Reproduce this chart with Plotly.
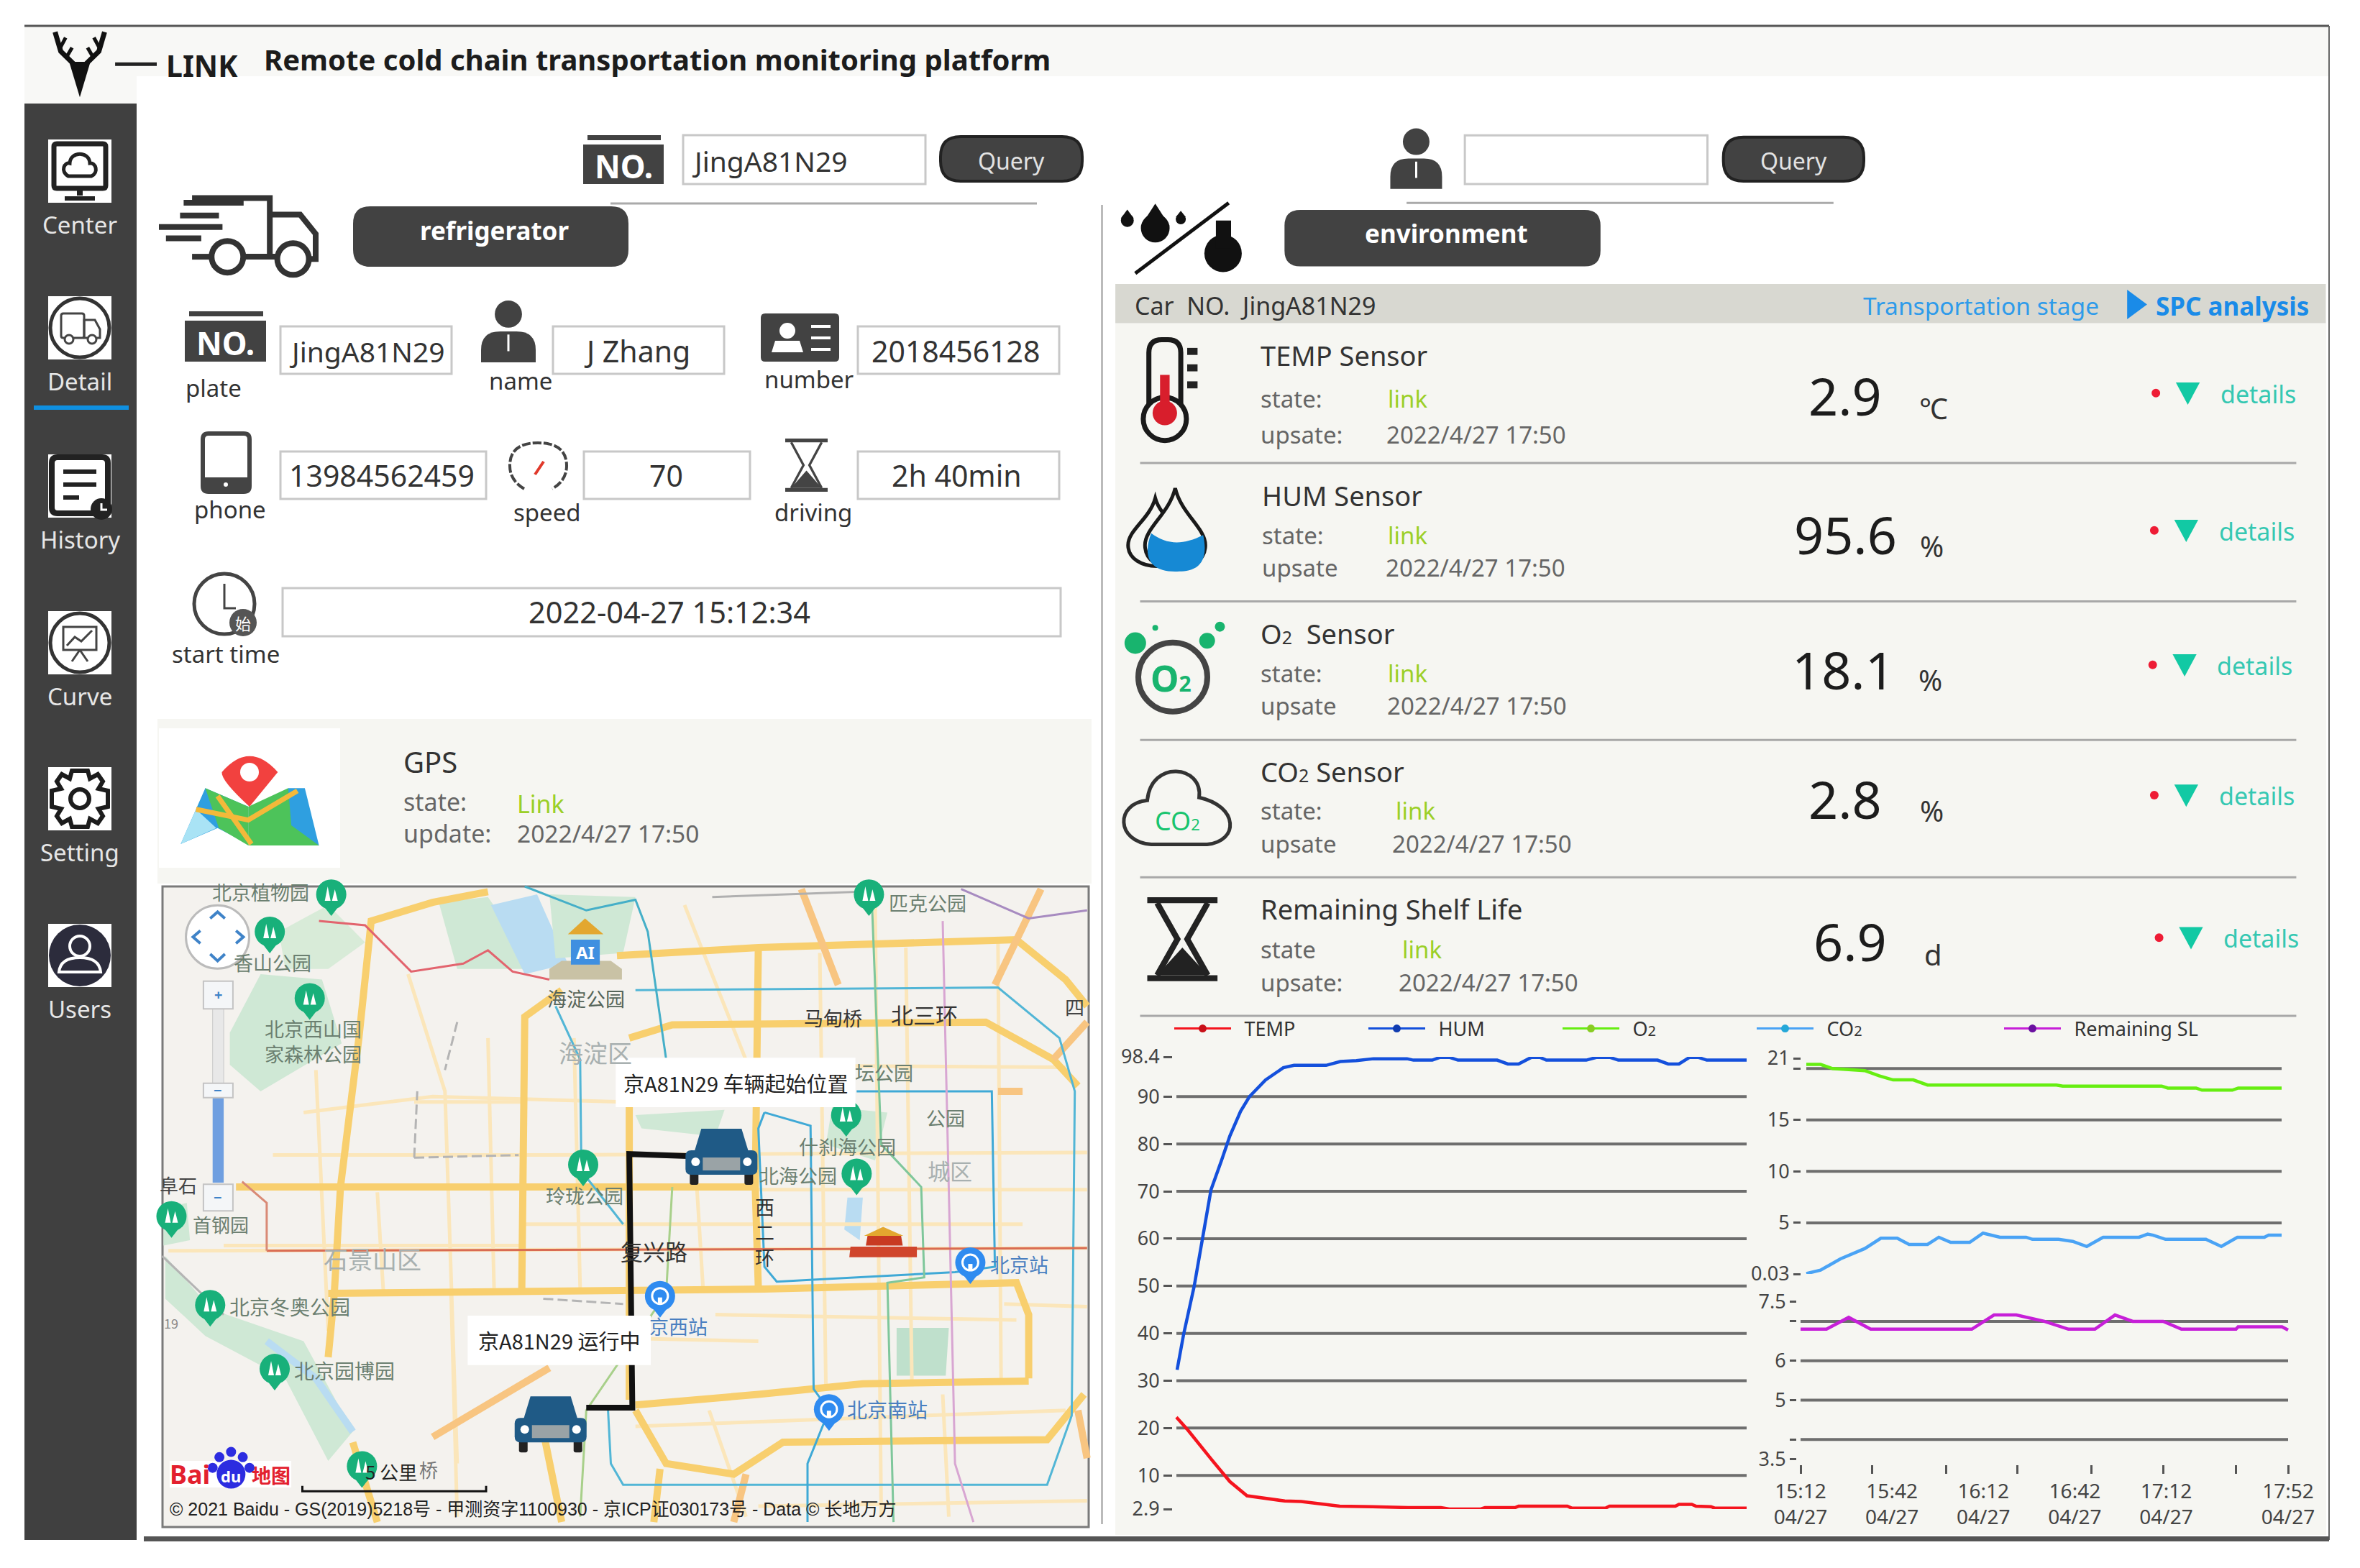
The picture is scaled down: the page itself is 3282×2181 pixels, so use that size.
import plotly.graph_objects as go

W, H = 3282, 2181
FONT = "Noto Sans, Noto Sans CJK SC, sans-serif"
CJK = "Noto Sans CJK SC, Noto Sans, sans-serif"

# ---- chart data (minutes after 15:12) ----
temp_t = [0, 3.2, 9.7, 15, 19.8, 25.7, 30.4, 35, 41, 45.8, 55, 65, 74.2, 76.6, 85.4, 86.6, 95, 96, 109.7, 110.9,
          120.4, 121.5, 140, 141, 144.6, 145.8, 150, 151, 160]
temp_v = [22.3, 19.6, 13.5, 8.7, 5.7, 5, 4.6, 4.5, 3.9, 3.5, 3.4, 3.2, 3.2, 2.9, 2.9, 3.2, 3.2, 3.5, 3.5, 3.1,
          3.1, 3.5, 3.5, 3.9, 3.9, 3.5, 3.4, 3.1, 3.1]
hum_t = [0.2, 2, 5, 7.3, 9.7, 12.7, 15, 18, 20.5, 25, 30, 33, 42, 46, 50.5, 55.3, 64.7, 66.5, 71.8, 74, 76.6, 79,
         90, 93, 96, 99.6, 102, 103.8, 115, 118, 121.6, 124, 135, 138, 141, 144, 146.4, 148.8, 160]
hum_v = [32.3, 39.7, 50, 60.3, 70.3, 76.6, 81.7, 86.9, 90, 93.5, 96.1, 96.6, 96.6, 97.4, 97.6, 98, 98, 97.7, 97.7,
         98.3, 98.3, 97.7, 97.7, 96.9, 96.9, 98.3, 98.3, 97.7, 97.7, 98.3, 98.3, 97.7, 97.7, 96.9, 96.9, 98.3, 98.3,
         97.7, 97.7]
o2_t = [0, 4.8, 8.8, 19.7, 24.5, 29.2, 36, 40.8, 84.2, 86.3, 119.6, 121.7, 131.2, 133.2, 143.4, 145.4, 160]
o2_v = [20.4, 20.4, 20, 19.8, 19.3, 18.9, 18.9, 18.4, 18.4, 18.3, 18.3, 18.1, 18.1, 17.9, 17.9, 18.1, 18.1]
co2_t = [0, 4.8, 11.5, 19.7, 25.1, 30.6, 34.6, 40.8, 44.6, 48.6, 55, 59.5, 65.2, 74, 76.1, 84.9, 89.7, 94.4, 99.9,
         112, 114.9, 116.8, 120.9, 134.5, 139.7, 145.1, 154.2, 155.6, 160]
co2_v = [0.07, 0.4, 1.5, 2.5, 3.5, 3.5, 2.9, 2.9, 3.6, 3.1, 3.1, 4, 3.6, 3.6, 3.4, 3.4, 3.2, 2.7, 3.6, 3.6, 3.9,
         3.8, 3.4, 3.4, 2.7, 3.6, 3.6, 3.8, 3.8]
sl_t = [0, 8.5, 15.8, 23, 56.2, 63.5, 70.8, 80, 87.9, 96.6, 103.2, 109, 119, 125, 142.9, 143.6, 158, 160]
sl_v = [6.8, 6.8, 7.1, 6.8, 6.8, 7.16, 7.16, 7, 6.8, 6.8, 7.16, 7, 7, 6.8, 6.8, 6.86, 6.86, 6.78]

left_ticks = [2.9, 10, 20, 30, 40, 50, 60, 70, 80, 90, 98.4]
left_grid = [10, 20, 30, 40, 50, 60, 70, 80, 90]
top_ticks = [0.03, 5, 10, 15, 20, 21]
top_labels = ["0.03", "5", "10", "15", "", "21"]
top_grid = [5, 10, 15, 20]
low_ticks = [3.5, 4, 5, 6, 7, 7.5]
low_labels = ["3.5", "", "5", "6", "", "7.5"]
low_grid = [4, 5, 6, 7]
time_ticks = [0, 30, 60, 90, 120, 160]
time_labels = ["15:12<br>04/27", "15:42<br>04/27", "16:12<br>04/27", "16:42<br>04/27", "17:12<br>04/27", "17:52<br>04/27"]
time_marks = [0, 23.5, 47.7, 71.2, 95.4, 119, 143, 160]

# ---- dashboard text ----
nav_labels = ["Center", "Detail", "History", "Curve", "Setting", "Users"]
sensor_titles = ["TEMP Sensor", "HUM Sensor", 'O<span style="font-size:25px">2</span>  Sensor',
                 'CO<span style="font-size:25px">2</span> Sensor', "Remaining Shelf Life"]
sensor_state_labels = ["state:", "state:", "state:", "state:", "state"]
sensor_time_labels = ["upsate:", "upsate", "upsate", "upsate", "upsate:"]
sensor_values = ["2.9", "95.6", "18.1", "2.8", "6.9"]
sensor_units = ["℃", "%", "%", "%", "d"]
sensor_stamp = "2022/4/27 17:50"

DARK = "#424242"
PANEL = "#f6f6f2"
GRID = "#6e6e6e"
shapes, notes = [], []


def z3(x, y):  # top left crop
    return x * 1540 / 1568, y * 1000 / 1568


def z4(x, y):  # right hand panel crop
    return 1540 + x * 1740 / 1568, 150 + y * 1280 / 1568


def z5(x, y):  # map crop
    return 200 + x * 1340 / 1568, 1000 + y * 1160 / 1568


def add(**kw):
    kw.update(xref="x", yref="y", layer="below")
    shapes.append(kw)


def rect(x0, y0, x1, y1, fill=None, color=None, w=0):
    add(type="rect", x0=x0, y0=y0, x1=x1, y1=y1, fillcolor=fill, line=dict(color=color, width=w))


def circle(cx, cy, r, fill=None, color=None, w=0):
    add(type="circle", x0=cx - r, y0=cy - r, x1=cx + r, y1=cy + r, fillcolor=fill, line=dict(color=color, width=w))


def poly(pts, fill=None, color=None, w=0, closed=True):
    d = "M" + " L".join(f"{x:.1f},{y:.1f}" for x, y in pts) + (" Z" if closed else "")
    add(type="path", path=d, fillcolor=fill, line=dict(color=color, width=w))


def stroke(pts, color, w):
    poly(pts, color=color, w=w, closed=False)


def rrect(x0, y0, x1, y1, r, fill=None, color=None, w=0):
    d = (f"M{x0 + r},{y0} L{x1 - r},{y0} Q{x1},{y0} {x1},{y0 + r} L{x1},{y1 - r} Q{x1},{y1} {x1 - r},{y1} "
         f"L{x0 + r},{y1} Q{x0},{y1} {x0},{y1 - r} L{x0},{y0 + r} Q{x0},{y0} {x0 + r},{y0} Z")
    add(type="path", path=d, fillcolor=fill, line=dict(color=color, width=w))


def curve(start, *segs, fill=None, color=None, w=0, closed=False):
    # segs are cubic segments: three points each
    d = f"M{start[0]:.1f},{start[1]:.1f}"
    for a, b, c in segs:
        d += f" C{a[0]:.1f},{a[1]:.1f} {b[0]:.1f},{b[1]:.1f} {c[0]:.1f},{c[1]:.1f}"
    add(type="path", path=d + (" Z" if closed else ""), fillcolor=fill, line=dict(color=color, width=w))


def teardrop(tip, cx, cy, rx, ry, fill=None, color=None, w=0):
    curve(tip,
          ((tip[0] + rx * 0.2, tip[1] + (cy - tip[1]) * 0.45), (cx + rx, cy - ry * 0.7), (cx + rx, cy)),
          ((cx + rx, cy + ry * 1.3), (cx - rx, cy + ry * 1.3), (cx - rx, cy)),
          ((cx - rx, cy - ry * 0.7), (tip[0] - rx * 0.2, tip[1] + (cy - tip[1]) * 0.45), tip),
          fill=fill, color=color, w=w, closed=True)


def txt(x, y, s, size=34, color="#333333", anchor="left", bold=False, font=FONT):
    notes.append(dict(x=x, y=y, xref="x", yref="y", text=f"<b>{s}</b>" if bold else s, showarrow=False,
                      xanchor=anchor, yanchor="middle", font=dict(size=size, color=color, family=font)))


def person(cx, y0, y1, hw):
    h = y1 - y0
    circle(cx, y0 + h * 0.22, h * 0.22, fill=DARK)
    d = (f"M{cx - hw},{y1} L{cx - hw},{y1 - h * 0.2} Q{cx - hw},{y0 + h * 0.5} {cx - hw * 0.3},{y0 + h * 0.5} "
         f"L{cx + hw * 0.3},{y0 + h * 0.5} Q{cx + hw},{y0 + h * 0.5} {cx + hw},{y1 - h * 0.2} L{cx + hw},{y1} Z")
    add(type="path", path=d, fillcolor=DARK, line=dict(width=0))
    stroke([(cx, y0 + h * 0.55), (cx, y1 - h * 0.18)], "#ffffff", 3)


def no_badge(x0, y0, x1, y1, size):
    rect(x0, y0, x1, y1, fill=DARK)
    rect(x0 + 6, y0 - 13, x1 - 4, y0 - 6, fill=DARK)
    txt((x0 + x1) / 2, (y0 + y1) / 2 + 2, "NO.", size, "#ffffff", "center", True)


def field(x0, y0, x1, y1):
    rect(x0, y0, x1, y1, fill="#ffffff", color="#c8c8c8", w=3)


def hourglass(x0, y0, x1, y1, color, thick=0.045):
    mx = (x0 + x1) / 2
    my = (y0 + y1) / 2
    h = y1 - y0
    bar = h * 0.07
    rect(x0, y0, x1, y0 + bar, fill=color)
    rect(x0, y1 - bar, x1, y1, fill=color)
    a = (x1 - x0) * 0.36
    n = (x1 - x0) * 0.07
    stroke([(mx - a, y0 + bar), (mx - n, my), (mx - a, y1 - bar)], color, h * thick)
    stroke([(mx + a, y0 + bar), (mx + n, my), (mx + a, y1 - bar)], color, h * thick)
    poly([(mx, my + h * 0.1), (mx + a, y1 - bar), (mx - a, y1 - bar)], fill=color)


# ---- page frame ----
rect(34, 36, 3239, 106, fill="#f8f8f6")
rect(34, 106, 190, 146, fill="#f8f8f6")
stroke([(34, 36), (3239, 36)], "#555555", 3)
stroke([(3239, 36), (3239, 2142)], "#666666", 2)
rect(34, 144, 190, 2142, fill="#404040")
rect(200, 2137, 3239, 2144, fill="#555555")

# logo and title
poly([z3(113, 212), z3(98, 135), z3(128, 135)], fill="#111111")
for sx in (1, -1):
    def m(x, y):
        return z3(113 + sx * (x - 113), y)
    stroke([m(108, 145), m(86, 112), m(78, 70)], "#111111", 7)
    stroke([m(84, 108), m(93, 82)], "#111111", 5)
    stroke([m(93, 128), m(102, 104)], "#111111", 5)
stroke([z3(163, 140), z3(222, 140)], "#222222", 5)
txt(*z3(233, 143), "LINK", 41, "#1c1c1c", bold=True)
txt(*z3(372, 130), "Remote cold chain transportation monitoring platform", 40, "#1c1c1c", bold=True)

# ---- side navigation ----
nav_y = [238, 456, 676, 894, 1111, 1329]
for label, cy in zip(nav_labels, nav_y):
    rect(67, cy - 44, 155, cy + 44, fill="#ffffff")
    txt(111, cy + 74, label, 33, "#e6e6e6", "center")
rect(47, 564, 179, 570, fill="#0f8fe0")
# center: monitor with a cloud
rrect(75, 200, 147, 262, 4, fill="#ffffff", color="#222222", w=7)
stroke([(111, 262), (111, 272)], "#222222", 8)
stroke([(90, 276), (132, 276)], "#222222", 6)
curve((95, 245), ((83, 238), (90, 225), (97, 227)), ((98, 210), (124, 210), (125, 227)),
      ((133, 226), (138, 240), (127, 245)), color="#222222", w=5, closed=True)
# detail: truck in a ring
circle(111, 456, 41, color="#333333", w=5)
rrect(85, 436, 117, 470, 3, color="#444444", w=3)
poly([(117, 445), (132, 445), (139, 458), (139, 470), (117, 470)], color="#444444", w=3)
circle(96, 472, 6, fill="#ffffff", color="#444444", w=3)
circle(128, 472, 6, fill="#ffffff", color="#444444", w=3)
# history: document with a clock
rrect(72, 636, 150, 714, 8, fill="#ffffff", color="#222222", w=8)
stroke([(88, 656), (134, 656)], "#222222", 6)
stroke([(88, 674), (134, 674)], "#222222", 6)
stroke([(88, 692), (110, 692)], "#222222", 6)
circle(141, 708, 15, fill="#222222")
stroke([(141, 700), (141, 709), (149, 709)], "#ffffff", 3)
# curve: board in a ring
circle(111, 894, 41, color="#333333", w=5)
rect(88, 872, 134, 904, color="#444444", w=3)
stroke([(93, 898), (104, 886), (113, 892), (128, 877)], "#444444", 3)
stroke([(111, 904), (100, 920)], "#444444", 3)
stroke([(111, 904), (122, 920)], "#444444", 3)
# setting: gear outline
gear = [(100, 1072), (122, 1072), (125, 1083), (136, 1077), (143, 1087), (137, 1097), (150, 1100), (150, 1122),
        (137, 1125), (143, 1135), (136, 1145), (125, 1139), (122, 1150), (100, 1150), (97, 1139), (86, 1145),
        (79, 1135), (85, 1125), (72, 1122), (72, 1100), (85, 1097), (79, 1087), (86, 1077), (97, 1083)]
poly(gear, fill="#ffffff", color="#1c1c1c", w=6)
circle(111, 1111, 13, fill="#ffffff", color="#1c1c1c", w=6)
# users: round badge
circle(111, 1329, 43, fill="#2c2c3c")
circle(111, 1316, 14, color="#ffffff", w=4)
d = "M82,1352 Q84,1332 111,1332 Q138,1332 140,1352 Z"
add(type="path", path=d, line=dict(color="#ffffff", width=4))

# ---- left column: search row and vehicle details ----
no_badge(811, 201, 923, 256, 44)
field(950, 188, 1287, 256)
txt(960, 223, "JingA81N29", 39)
rrect(1308, 190, 1505, 252, 28, fill=DARK, color="#222222", w=4)
txt(1406, 223, "Query", 32, "#e2e2e2", "center")
stroke([(849, 283), (1442, 283)], "#aaaaaa", 3)
rect(1531, 285, 1534, 2120, fill="#bbbbbb")

# truck icon
truck_w = 8
stroke([z3(272, 432), z3(382, 432), z3(382, 560)], "#333333", truck_w)
stroke([z3(382, 468), z3(425, 468), z3(447, 510), z3(447, 565), z3(440, 565)], "#333333", truck_w)
stroke([z3(345, 560), z3(392, 560)], "#333333", truck_w)
stroke([z3(272, 560), z3(300, 560)], "#333333", truck_w)
for a, b, y in [(260, 345, 442), (255, 310, 470), (225, 315, 495), (235, 285, 520)]:
    stroke([z3(a, y), z3(b, y)], "#333333", truck_w)
circle(*z3(322, 560), 22, fill="#ffffff", color="#333333", w=truck_w)
circle(*z3(415, 565), 22, fill="#ffffff", color="#333333", w=truck_w)

rrect(491, 287, 874, 371, 24, fill=DARK)
txt(687, 320, "refrigerator", 35, "#ffffff", "center", True)

no_badge(257, 446, 370, 503, 44)
txt(297, 539, "plate", 33, anchor="center")
field(390, 454, 628, 520)
txt(400, 488, "JingA81N29", 39)
person(707, 418, 504, 38)
txt(724, 529, "name", 33, anchor="center")
field(769, 454, 1007, 520)
txt(886, 488, "J Zhang", 41, anchor="center")
rrect(1058, 436, 1167, 503, 6, fill=DARK)
circle(1095, 460, 11, fill="#ffffff")
poly([(1073, 490), (1078, 474), (1112, 474), (1117, 490)], fill="#ffffff")
for y in [454, 470, 486]:
    stroke([(1128, y), (1155, y)], "#ffffff", 4)
txt(1125, 527, "number", 33, anchor="center")
field(1193, 454, 1473, 520)
txt(1329, 488, "2018456128", 41, anchor="center")

rrect(282, 603, 347, 684, 8, color="#444444", w=6)
rect(282, 664, 347, 684, fill="#444444")
circle(314, 674, 3, fill="#ffffff")
txt(320, 708, "phone", 33, anchor="center")
field(390, 628, 676, 694)
txt(531, 661, "13984562459", 41, anchor="center")
d = "M729,680 Q709,668 709,648 Q709,616 748,616 Q788,616 788,648 Q788,668 768,680"
add(type="path", path=d, line=dict(color="#444444", width=4, dash="12px,3px"))
stroke([(744, 660), (756, 642)], "#e0392b", 4)
txt(761, 712, "speed", 33, anchor="center")
field(812, 628, 1043, 694)
txt(926, 661, "70", 41, anchor="center")
hourglass(1092, 610, 1151, 684, "#444444")
txt(1131, 712, "driving", 33, anchor="center")
field(1193, 628, 1473, 694)
txt(1330, 661, "2h 40min", 41, anchor="center")

circle(312, 840, 42, color="#444444", w=5)
stroke([(312, 812), (312, 846), (328, 846)], "#444444", 3)
circle(338, 866, 19, fill="#555555")
txt(338, 866, "始", 22, "#ffffff", "center", font=CJK)
txt(314, 909, "start time", 33, anchor="center")
field(393, 818, 1475, 885)
txt(931, 851, "2022-04-27 15:12:34", 41.5, anchor="center")

# ---- GPS block ----
rect(219, 1000, 1518, 1229, fill=PANEL)
rect(221, 1013, 473, 1207, fill="#ffffff")
poly([z5(60, 235), z5(100, 130), z5(170, 165), z5(170, 235), z5(120, 205)], fill="#2f9fe0")
poly([z5(60, 235), z5(85, 170), z5(118, 205)], fill="#a9e3f5")
poly([z5(100, 130), z5(170, 165), z5(170, 238), z5(122, 205)], fill="#4dc35a")
poly([z5(170, 165), z5(235, 130), z5(285, 238), z5(170, 238)], fill="#4dc35a")
poly([z5(235, 130), z5(262, 130), z5(285, 238), z5(240, 200)], fill="#2f9fe0")
stroke([z5(85, 170), z5(170, 190), z5(250, 135)], "#f4b93a", 7)
stroke([z5(120, 145), z5(175, 235)], "#f4b93a", 7)
d = "M{},{} Q{},{} {},{} Q{},{} {},{} Z".format(*z5(172, 165), *z5(125, 115), *z5(127, 100), *z5(172, 40),
                                               *z5(218, 100), *z5(172, 165))
add(type="path", path=d, fillcolor="#f2413f", line=dict(width=0))
circle(*z5(172, 100), 13, fill="#ffffff")
txt(559, 1059, "GPS", 40)
txt(559, 1115, "state:", 34, "#666666")
txt(717, 1118, "Link", 34, "#9bcf26")
txt(559, 1159, "update:", 34, "#666666")
txt(717, 1159, "2022/4/27 17:50", 33.5, "#666666")

# ---- map ----
rect(226, 1233, 1514, 2124, fill="#f4f2ee", color="#7a7a7a", w=3)


def mp(*pts):
    return [z5(*p) for p in pts]


for area, c in [
    (mp((140, 590), (190, 480), (290, 490), (322, 610), (190, 700), (140, 650)), "#cfe8d5"),
    (mp((220, 400), (300, 350), (360, 420), (300, 470), (230, 470)), "#d8ebd8"),
    (mp((480, 345), (560, 335), (640, 470), (510, 470)), "#cfe8d5"),
    (mp((565, 350), (640, 330), (690, 460), (620, 480)), "#b9dcf2"),
    (mp((660, 330), (800, 335), (780, 440), (670, 450)), "#cfe8d5"),
    (mp((800, 745), (945, 735), (930, 785), (810, 770)), "#cfe8d5"),
    (mp((1120, 730), (1210, 740), (1190, 830), (1110, 800)), "#cfe8d5"),
    (mp((1225, 1145), (1310, 1145), (1305, 1235), (1225, 1235)), "#bfe0cc"),
    (mp((35, 1010), (110, 1110), (260, 1170), (340, 1340), (300, 1395), (230, 1240), (100, 1160), (35, 1090)), "#cfe8d5"),
    (mp((1145, 900), (1170, 900), (1165, 980), (1140, 960)), "#b9dcf2"),
    (mp((32, 920), (70, 910), (75, 980), (32, 990)), "#cfe8d5"),
]:
    poly(area, fill=c)
stroke(mp((200, 1170), (280, 1240), (340, 1340)), "#b9dcf2", 10)

thin = [
    [(260, 740), (470, 710), (780, 720)], [(430, 480), (490, 700), (510, 1400)], [(280, 660), (300, 1150)],
    [(210, 820), (620, 820), (1535, 815)], [(1190, 340), (1200, 1500)],
    [(930, 1120), (1420, 1130)], [(500, 1080), (510, 1500)], [(880, 350), (1000, 700)],
    [(920, 1300), (980, 1500)], [(1000, 885), (1535, 885)], [(1400, 1100), (1535, 1105)],
    [(1100, 440), (1110, 1260)], [(1240, 430), (1250, 1250)], [(1390, 420), (1395, 1250)],
    [(800, 650), (1500, 655)], [(620, 950), (1430, 950)], [(620, 1160), (1000, 1170)], [(800, 1330), (1500, 1300)],
    [(560, 600), (570, 1070)], [(700, 600), (710, 1070)], [(900, 880), (910, 1070)], [(440, 720), (620, 720)],
    [(130, 990), (620, 990)], [(380, 890), (390, 1080)], [(1000, 1480), (1535, 1470)], [(1300, 1270), (1310, 1500)],
    [(40, 1000), (1535, 995)],
]
for line in thin:
    stroke(mp(*line), "#fbe6ba", 5)
roads = [
    [(770, 445), (1000, 430), (1420, 415), (1500, 490), (1535, 540)],
    [(790, 600), (860, 575), (1370, 570), (1480, 640), (1520, 690)],
    [(150, 880), (620, 880), (1000, 880)],
    [(300, 1080), (1010, 1072), (1420, 1060), (1440, 1120), (1440, 1240)],
    [(800, 1290), (1000, 1270), (1170, 1250), (1440, 1245)],
    [(800, 1300), (850, 1400), (960, 1420), (1040, 1360), (1470, 1355), (1530, 1270)],
    [(560, 325), (470, 345), (370, 380), (350, 600), (320, 880), (310, 1080), (300, 1200)],
    [(680, 510), (620, 560), (615, 1075)],
    [(1000, 430), (995, 880), (1000, 1070)],
    [(790, 720), (790, 1280)],
    [(340, 1360), (380, 1510)],
    [(650, 1340), (680, 1510)],
    [(840, 1410), (830, 1510)],
]
for line in roads:
    stroke(mp(*line), "#f8cf6e", 10)
for line in [[(1070, 320), (1130, 500)], [(1385, 500), (1460, 320)], [(1480, 640), (1535, 570)], [(470, 1350), (660, 1220)],
             [(980, 1420), (960, 1510)], [(1520, 1300), (1535, 1390)], [(1390, 700), (1430, 700)]]:
    stroke(mp(*line), "#f8c581", 10)
for line, c in [
    ([(800, 510), (1390, 505), (1490, 600), (1515, 700), (1510, 1310), (1470, 1440), (780, 1440), (760, 1400), (755, 1290)], "#52b6d6"),
    ([(620, 315), (720, 360), (800, 340), (820, 400), (850, 640)], "#45afc8"),
    ([(670, 540), (710, 640), (712, 850), (780, 950)], "#52b6d6"),
    ([(1010, 740), (1085, 765), (1090, 1260), (1115, 1300), (1080, 1400), (1080, 1510)], "#3fa9d6"),
    ([(1160, 700), (1380, 700), (1385, 1030), (1320, 1040), (1030, 1058), (1010, 1030), (1000, 770), (1010, 740)], "#3fa9d6"),
    ([(1185, 350), (1200, 800), (1265, 880), (1270, 1050), (1210, 1060), (1220, 1510)], "#7fc79b"),
    ([(1300, 380), (1320, 1400), (1350, 1510)], "#d8a6d2"),
    ([(1330, 320), (1440, 375), (1535, 360)], "#a78bc0"),
    ([(860, 880), (850, 1080), (720, 1300), (710, 1500)], "#a8d08a"),
    ([(200, 1000), (1535, 995)], "#d96b52"),
    ([(160, 870), (200, 910), (200, 1000)], "#d98a76"),
    ([(285, 380), (360, 388), (435, 475), (520, 460), (560, 435), (600, 475), (660, 490)], "#e2646e"),
    ([(925, 335), (1160, 325)], "#b0b0b0"),
    ([(30, 1010), (130, 1120)], "#b4b4b4"),
]:
    stroke(mp(*line), c, 3)
# rail lines, dashed and pale
for line in [[(440, 825), (610, 820)], [(440, 825), (445, 700)], [(510, 570), (490, 660)], [(650, 1090), (780, 1100)]]:
    x0, y0 = z5(*line[0])
    x1, y1 = z5(*line[1])
    add(type="line", x0=x0, y0=y0, x1=x1, y1=y1, line=dict(color="#b4b4b4", width=3, dash="14px,6px"))


def pin(x, y, c="#18b07a"):
    px_, py_ = z5(x, y)
    poly([(px_ - 17, py_ + 8), (px_, py_ + 30), (px_ + 17, py_ + 8)], fill=c)
    circle(px_, py_, 21, fill=c)
    if c == "#18b07a":
        poly([(px_ - 9, py_ + 9), (px_ - 5, py_ - 11), (px_ - 1, py_ + 9)], fill="#ffffff")
        poly([(px_ + 1, py_ + 9), (px_ + 5, py_ - 7), (px_ + 9, py_ + 9)], fill="#ffffff")
    else:
        circle(px_, py_, 11, color="#ffffff", w=3)
        rect(px_ - 3, py_ + 2, px_ + 3, py_ + 11, fill="#ffffff")


for p in [(205, 400), (270, 525), (305, 330), (715, 838), (1160, 855), (1143, 745), (108, 1102), (213, 1222),
          (355, 1405), (45, 935), (1180, 330)]:
    pin(*p)
for p in [(840, 1085), (1345, 1022), (1115, 1298)]:
    pin(*p, c="#2f8bf0")

# landmark icons: AI tower and the palace
poly(mp((660, 470), (680, 455), (760, 455), (778, 470), (778, 490), (660, 490)), fill="#c9c2a5")
rect(*z5(695, 415), *z5(742, 462), fill="#3f8fe0")
poly(mp((690, 405), (718, 375), (748, 405)), fill="#e3a72f")
txt(*z5(718, 438), "AI", 24, "#ffffff", "center", True)
poly(mp((1148, 1012), (1150, 992), (1258, 992), (1258, 1012)), fill="#d0452c")
poly(mp((1175, 990), (1178, 970), (1232, 970), (1235, 990)), fill="#c83a22")
poly(mp((1172, 972), (1203, 955), (1236, 972)), fill="#e3a72f")

map_labels = [
    ("北京植物园", 190, 325, 27, "#6b7f70"), ("匹克公园", 1275, 345, 27, "#6b7f70"), ("香山公园", 210, 458, 27, "#6b7f70"),
    ("海淀公园", 720, 525, 27, "#55655a"), ("马甸桥", 1122, 562, 27, "#333333"), ("北三环", 1270, 555, 31, "#333333"),
    ("四", 1515, 542, 27, "#444444"), ("北京西山国<br>家森林公园", 275, 606, 27, "#6b7f70"),
    ("海淀区", 735, 627, 34, "#a8b0b0"), ("坛公园", 1205, 665, 27, "#6b7f70"), ("公园", 1305, 750, 27, "#6b7f70"),
    ("什刹海公园", 1145, 803, 27, "#6b7f70"), ("城区", 1312, 848, 31, "#a8b0b0"), ("北海公园", 1065, 858, 27, "#6b7f70"),
    ("玲珑公园", 717, 895, 27, "#6b7f70"), ("阜石", 56, 875, 26, "#444444"), ("首钢园", 125, 950, 26, "#6b7f70"),
    ("石景山区", 372, 1015, 34, "#a8b0b0"), ("复兴路", 830, 1000, 31, "#333333"), ("西<br>二<br>环", 1010, 965, 27, "#333333"),
    ("北京站", 1425, 1025, 27, "#4a7fc0"), ("19", 45, 1135, 18, "#888888"),
    ("京西站", 870, 1142, 27, "#4a7fc0"), ("北京冬奥公园", 238, 1105, 28, "#6b7f70"), ("北京园博园", 327, 1225, 28, "#6b7f70"),
    ("北京南站", 1210, 1298, 28, "#4a7fc0"), ("5 公里", 402, 1415, 26, "#222222"), ("桥", 463, 1410, 26, "#777777"),
]
for s, x, y, size, c in map_labels:
    txt(*z5(x, y), s, size, c, "center", font=CJK)

# route and cars
stroke(mp((885, 822), (790, 818), (795, 1295), (720, 1295)), "#111111", 8)
for bx0, by0, bx1, by1, s in [(768, 637, 1158, 730, "京A81N29 车辆起始位置"), (527, 1122, 825, 1215, "京A81N29 运行中")]:
    rect(*z5(bx0, by0), *z5(bx1, by1), fill="#ffffff")
    txt(*z5((bx0 + bx1) / 2, (by0 + by1) / 2), s, 29, "#222222", "center", font=CJK)


def car(x, y):
    cx, cy = z5(x, y)
    rrect(cx - 44, cy + 18, cx - 32, cy + 40, 3, fill="#222222")
    rrect(cx + 32, cy + 18, cx + 44, cy + 40, 3, fill="#222222")
    poly([(cx - 38, cy - 5), (cx - 28, cy - 38), (cx + 28, cy - 38), (cx + 38, cy - 5)], fill="#1f5a86")
    rrect(cx - 50, cy - 8, cx + 50, cy + 26, 8, fill="#1f5a86")
    rect(cx - 26, cy + 2, cx + 26, cy + 20, fill="#9aa3a6")
    circle(cx - 36, cy + 8, 6, fill="#ffffff")
    circle(cx + 36, cy + 8, 6, fill="#ffffff")


car(940, 822)
car(662, 1325)

# map controls
circle(*z5(120, 410), 44, fill="#ffffff", color="#bbbbbb", w=3)
for pts in [[(108, 375), (120, 363), (132, 375)], [(108, 442), (120, 455), (132, 442)],
            [(92, 398), (80, 410), (92, 422)], [(150, 398), (162, 410), (150, 422)]]:
    stroke(mp(*pts), "#3f83c8", 4)
rect(*z5(112, 545), *z5(130, 700), fill="#e8e8e8", color="#c8c8c8", w=1)
rect(*z5(112, 712), *z5(130, 872), fill="#6f9fe0")
for y0, y1, sign in [(493, 545, "+"), (685, 712, "−"), (875, 925, "−")]:
    rect(*z5(97, y0), *z5(145, y1), fill="#f4f6f8", color="#c4c4c4", w=2)
    txt(*z5(121, (y0 + y1) / 2), sign, 20, "#3f83c8", "center", True)

# baidu mark and copyright
rect(*z5(42, 1395), *z5(240, 1445), fill="#ffffff")
txt(*z5(75, 1420), "Bai", 36, "#e3202e", "center", True)
for p in [(123, 1388), (142, 1378), (161, 1388), (112, 1408), (172, 1408)]:
    circle(*z5(*p), 7, fill="#2c2ce0")
circle(*z5(142, 1420), 20, fill="#2c2ce0")
txt(*z5(142, 1424), "du", 22, "#ffffff", "center", True)
txt(*z5(207, 1422), "地图", 27, "#e3202e", "center", True, font=CJK)
stroke(mp((258, 1442), (258, 1452), (557, 1452), (557, 1442)), "#111111", 3)
txt(*z5(40, 1485), "© 2021 Baidu - GS(2019)5218号 - 甲测资字1100930 - 京ICP证030173号 - Data © 长地万方", 25, "#222222",
    font="Liberation Sans, Noto Sans CJK SC, sans-serif")

# ---- right column ----
person(*[z4(387, 0)[0]], z4(0, 35)[1], z4(0, 138)[1], 36)
field(*z4(448, 47), *z4(752, 130))
rrect(*z4(772, 50), *z4(948, 125), 28, fill=DARK, color="#222222", w=4)
txt(*z4(860, 90), "Query", 32, "#e2e2e2", "center")
stroke([z4(375, 162), z4(910, 162)], "#aaaaaa", 3)
# drop / thermometer mark
stroke([z4(35, 282), z4(152, 162)], "#111111", 5)
for x, y, r in [(60, 205, 20), (25, 192, 9), (92, 190, 7)]:
    circle(*z4(x, y), r, fill="#111111")
    poly([(z4(x, y)[0] - r, z4(x, y)[1] - 3), (z4(x, y)[0], z4(x, y)[1] - r * 1.7), (z4(x, y)[0] + r, z4(x, y)[1] - 3)], fill="#111111")
circle(*z4(145, 248), 26, fill="#111111")
rect(*z4(136, 192), *z4(155, 240), fill="#111111")
rrect(*z4(222, 174), *z4(618, 270), 22, fill=DARK)
txt(*z4(425, 214), "environment", 35, "#ffffff", "center", True)

rect(*z4(10, 367), 3235, 2135, fill=PANEL)
rect(*z4(10, 300), *z4(1527, 367), fill="#d8d8d1")
txt(*z4(32, 337), "Car  NO.  JingA81N29", 34, "#333333")
txt(*z4(945, 337), "Transportation stage", 33.5, "#2e9bea")
poly([z4(1278, 310), z4(1303, 335), z4(1278, 360)], fill="#1a8be8")
txt(*z4(1312, 337), "SPC analysis", 35, "#1a8be8", bold=True)

row_title_x = [190, 192, 190, 190, 190]
row_title_y = [421, 660, 895, 1131, 1365]
row_state_y = [495, 728, 963, 1198, 1434]
row_link_x = [350, 350, 350, 360, 368]
row_time_y = [557, 783, 1019, 1254, 1490]
row_date_x = [348, 347, 349, 355, 363]
row_value_x = [925, 925, 922, 925, 931]
row_value_y = [490, 727, 957, 1177, 1420]
row_unit_x = [1035, 1033, 1031, 1033, 1035]
row_unit_y = [512, 747, 975, 1198, 1443]
row_flag_x = [1314, 1312, 1310, 1312, 1318]
row_flag_y = [486, 720, 949, 1171, 1414]
row_rule_y = [605, 841, 1077, 1311, 1547]
for i in range(5):
    txt(*z4(row_title_x[i], row_title_y[i]), sensor_titles[i], 38, "#333333")
    txt(*z4(row_title_x[i], row_state_y[i]), sensor_state_labels[i], 33, "#666666")
    txt(*z4(row_link_x[i], row_state_y[i]), "link", 33, "#9bcf26")
    txt(*z4(row_title_x[i], row_time_y[i]), sensor_time_labels[i], 33, "#666666")
    txt(*z4(row_date_x[i], row_time_y[i]), sensor_stamp, 33, "#666666")
    txt(*z4(row_value_x[i], row_value_y[i]), sensor_values[i], 72, "#1c1c1c", "center")
    txt(*z4(row_unit_x[i], row_unit_y[i]), sensor_units[i], 40, "#333333", "center")
    fx, fy = row_flag_x[i], row_flag_y[i]
    circle(*z4(fx, fy), 6, fill="#ee1c35")
    poly([z4(fx + 25, fy - 18), z4(fx + 55, fy - 18), z4(fx + 40, fy + 20)], fill="#12c9a4")
    txt(*z4(fx + 79, fy + 1), "details", 34, "#35c8b2")
    stroke([z4(41, row_rule_y[i]), z4(1490, row_rule_y[i])], "#a8a8a8", 3)

# thermometer
rrect(*z4(52, 395), *z4(92, 530), 18, color="#1a1a1a", w=7)
circle(*z4(72, 530), 30, fill=PANEL, color="#1a1a1a", w=7)
rect(*z4(66, 455), *z4(78, 520), fill="#d81e2c")
circle(*z4(72, 520), 17, fill="#d81e2c")
for y in [415, 443, 472]:
    rect(*z4(100, y - 6), *z4(113, y + 6), fill="#222222")
# droplets: back one, front one, water level
teardrop(z4(60, 665), *z4(62, 745), 40, 30, color="#1a1a1a", w=5)
teardrop(z4(85, 648), *z4(85, 745), 42, 34, fill=PANEL, color="#1a1a1a", w=5)
curve(z4(55, 725), (z4(75, 745), z4(95, 745), z4(120, 728)), (z4(130, 790), z4(100, 790), z4(85, 790)),
      (z4(50, 790), z4(45, 760), z4(55, 725)), fill="#1689d4", closed=True)
# O2
circle(*z4(82, 970), 48, color="#444444", w=8)
txt(*z4(80, 972), 'O<span style="font-size:30px">2</span>', 50, "#18b46e", "center", True)
for x, y, r in [(35, 912, 15), (125, 908, 11), (141, 884, 7), (60, 886, 4)]:
    circle(*z4(x, y), r, fill="#18b46e")
# CO2 cloud
curve(z4(55, 1255), (z4(10, 1250), z4(10, 1185), z4(50, 1180)), (z4(55, 1110), z4(120, 1120), z4(115, 1175)),
      (z4(165, 1190), z4(165, 1250), z4(125, 1255)), color="#333333", w=5, closed=True)
txt(*z4(88, 1214), 'CO<span style="font-size:22px">2</span>', 36, "#18c46e", "center")
hourglass(*z4(50, 1345), *z4(138, 1488), "#222222", thick=0.07)

# ---- the three small charts, placed by pixel ----
fig = go.Figure()


def dom_x(a, b):
    return [a / W, b / W]


def dom_y(top, bottom):
    return [1 - bottom / H, 1 - top / H]


def time_range(plot_left, plot_right, t0_px, t1_px):
    k = (t1_px - t0_px) / 160
    return [(plot_left - t0_px) / k, 160 + (plot_right - t1_px) / k]


def value_axis(domain, rng, tickvals, ticktext, ticklen):
    return dict(domain=domain, range=rng, tickmode="array", tickvals=tickvals, ticktext=ticktext, ticks="outside",
                ticklen=ticklen, tickwidth=3, tickcolor="#555555", showgrid=False, zeroline=False, showline=False,
                tickfont=dict(size=27, color="#444444", family=FONT), fixedrange=True, automargin=False)


def hidden_time(domain, rng):
    return dict(domain=domain, range=rng, visible=False, fixedrange=True, automargin=False)


x_left = hidden_time(dom_x(1631, 2436), time_range(1631, 2436, 1636, 2429))
y_left = value_axis(dom_y(1470, 2099), [2.9, 98.4], left_ticks, [str(v) for v in left_ticks], 12)
x_top = hidden_time(dom_x(2505, 3180), time_range(2505, 3180, 2512, 3173))
y_top = value_axis(dom_y(1472, 1772), [0.03, 21], top_ticks, top_labels, 10)
low_floor = 3.5 - 7.5 / 55
x_low = dict(domain=dom_x(2499, 3190), range=time_range(2499, 3190, 2504, 3182), tickmode="array", tickvals=time_ticks,
             ticktext=time_labels, ticks="", showgrid=False, zeroline=False, showline=False, fixedrange=True,
             automargin=False, tickfont=dict(size=28, color="#444444", family=FONT), ticklabelstandoff=18,
             minor=dict(tickmode="array", tickvals=time_marks, ticks="outside", ticklen=12, tickwidth=3,
                        tickcolor="#555555", showgrid=False))
y_low = value_axis(dom_y(1810.5, 2037), [low_floor, 7.5], low_ticks, low_labels, 9)

for grid, xa, ya, t1 in [(left_grid, "x2", "y2", 160), (top_grid, "x3", "y3", 160), (low_grid, "x4", "y4", 160)]:
    for v in grid:
        shapes.append(dict(type="line", xref=xa, yref=ya, x0=0, x1=t1, y0=v, y1=v, layer="below",
                           line=dict(color=GRID, width=4)))

series = [
    (temp_t, temp_v, "TEMP", "#f5141e", "#c81018", "x2", "y2", "legend"),
    (hum_t, hum_v, "HUM", "#1450dc", "#103cb0", "x2", "y2", "legend"),
    (o2_t, o2_v, 'O<span style="font-size:20px">2</span>', "#66ee11", "#88cc22", "x3", "y3", "legend"),
    (co2_t, co2_v, 'CO<span style="font-size:20px">2</span>', "#4aa3f5", "#25a8d8", "x3", "y3", "legend"),
    (sl_t, sl_v, "Remaining SL", "#c61fd8", "#6a10a0", "x4", "y4", "legend2"),
]
for t, v, name, c, mc, xa, ya, lg in series:
    fig.add_trace(go.Scatter(x=t, y=v, mode="lines", line=dict(color=c, width=4.5), xaxis=xa, yaxis=ya,
                             showlegend=False, cliponaxis=False, hoverinfo="skip"))
    # legend sample with the dot, the lines themselves carry no dots
    fig.add_trace(go.Scatter(x=[None], y=[None], mode="lines+markers", name="\u2002" + name, xaxis=xa, yaxis=ya,
                             line=dict(color=c, width=3), marker=dict(color=mc, size=11), legend=lg))

legend_style = dict(orientation="h", yanchor="middle", xanchor="left", y=1 - 1431 / H, itemwidth=79, itemclick=False,
                    itemdoubleclick=False, bgcolor="rgba(0,0,0,0)", font=dict(size=27, color="#333333", family=FONT),
                    entrywidthmode="pixels", entrywidth=176, tracegroupgap=0)

fig.update_layout(
    width=W, height=H, margin=dict(l=0, r=0, t=0, b=0), autosize=False,
    paper_bgcolor="#ffffff", plot_bgcolor="rgba(0,0,0,0)",
    xaxis=dict(domain=[0, 1], range=[0, W], visible=False, fixedrange=True, automargin=False),
    yaxis=dict(domain=[0, 1], range=[H, 0], visible=False, fixedrange=True, automargin=False),
    xaxis2=dict(x_left, anchor="y2"), yaxis2=dict(y_left, anchor="x2"),
    xaxis3=dict(x_top, anchor="y3"), yaxis3=dict(y_top, anchor="x3"),
    xaxis4=dict(x_low, anchor="y4"), yaxis4=dict(y_low, anchor="x4"),
    legend=dict(legend_style, x=1628 / W),
    legend2=dict(legend_style, x=2782 / W, entrywidth=300),
    shapes=shapes, annotations=notes, hovermode=False,
)
# the canvas axes need a trace to exist
fig.add_trace(go.Scatter(x=[0], y=[0], mode="markers", marker=dict(opacity=0), xaxis="x", yaxis="y",
                         showlegend=False, hoverinfo="skip"))

fig.write_html("out.html", config={"displayModeBar": False}, post_script="document.body.style.margin='0';")
